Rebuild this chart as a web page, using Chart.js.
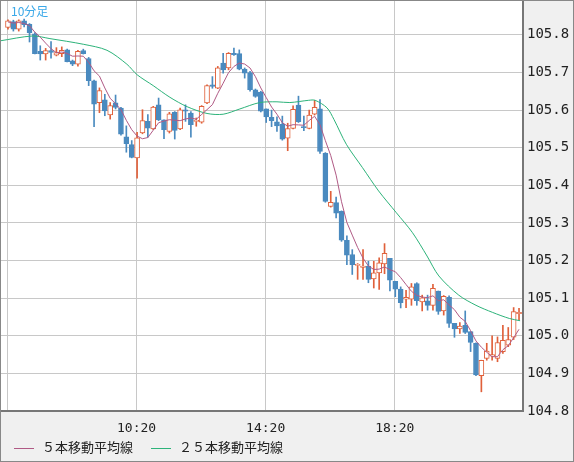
<!DOCTYPE html>
<html><head><meta charset="utf-8">
<script src="https://cdn.jsdelivr.net/npm/chart.js@4/dist/chart.umd.min.js"></script>
<style>
html,body{margin:0;padding:0;background:#f0f0f0;}
#wrap{position:relative;width:574px;height:462px;}
#c{position:absolute;left:0;top:0;}
#frame{position:absolute;left:0;top:0;width:572px;height:460px;border:1px solid #888;pointer-events:none;}
#title{position:absolute;left:11px;top:2px;font:12px "Noto Sans CJK JP";color:#3aa8e8;}
#legend{position:absolute;left:14px;top:437px;font:13px "Noto Sans CJK JP";color:#222;white-space:nowrap;}
#legend span.l{display:inline-block;width:20px;height:1px;vertical-align:middle;margin-right:8px;}
</style></head><body>
<div id="wrap"><canvas id="c" width="574" height="462"></canvas>
<div id="frame"></div>
<div id="title">10分足</div>
<div id="legend"><span class="l" style="background:#b05a85"></span>５本移動平均線<span style="display:inline-block;width:18px"></span><span class="l" style="background:#2db37a"></span>２５本移動平均線</div>
</div>
<script>
const opens  = [105.82,105.835,105.815,105.837,105.828,105.803,105.756,105.749,105.758,105.746,105.750,105.76,105.731,105.722,105.758,105.737,105.678,105.62,105.627,105.587,105.619,105.605,105.529,105.508,105.473,105.539,105.57,105.55,105.614,105.574,105.543,105.594,105.55,105.601,105.592,105.57,105.568,105.619,105.667,105.658,105.725,105.712,105.751,105.75,105.709,105.7,105.654,105.648,105.603,105.581,105.569,105.562,105.525,105.551,105.613,105.556,105.551,105.589,105.603,105.485,105.344,105.354,105.331,105.254,105.216,105.187,105.182,105.185,105.151,105.167,105.191,105.206,105.145,105.124,105.097,105.097,105.139,105.09,105.093,105.081,105.119,105.066,105.102,105.033,105.018,105.028,105.011,104.98,104.894,104.94,104.946,104.94,104.958,104.975,104.996,105.059];
const closes = [105.837,105.815,105.837,105.827,105.806,105.75,105.749,105.758,105.753,105.753,105.759,105.729,105.722,105.756,105.75,105.678,105.616,105.652,105.598,105.612,105.607,105.536,105.511,105.474,105.526,105.572,105.552,105.608,105.574,105.548,105.59,105.546,105.601,105.597,105.561,105.573,105.61,105.665,105.663,105.712,105.707,105.751,105.747,105.709,105.698,105.654,105.636,105.597,105.582,105.572,105.558,105.523,105.551,105.602,105.569,105.553,105.587,105.607,105.49,105.357,105.355,105.326,105.254,105.214,105.189,105.19,105.185,105.15,105.167,105.194,105.219,105.148,105.124,105.088,105.102,105.13,105.093,105.101,105.081,105.126,105.065,105.105,105.033,105.018,105.026,105.009,104.982,104.896,104.935,104.959,104.95,104.982,104.988,104.99,105.064,105.062];
const highs  = [105.84,105.839,105.84,105.842,105.83,105.806,105.771,105.764,105.782,105.766,105.768,105.762,105.733,105.759,105.762,105.74,105.68,105.659,105.642,105.62,105.64,105.607,105.558,105.519,105.541,105.601,105.588,105.61,105.632,105.574,105.594,105.596,105.605,105.614,105.596,105.579,105.612,105.667,105.689,105.716,105.751,105.753,105.765,105.76,105.712,105.703,105.656,105.65,105.603,105.6,105.582,105.584,105.565,105.611,105.637,105.584,105.6,105.626,105.628,105.487,105.384,105.369,105.332,105.266,105.229,105.192,105.229,105.198,105.198,105.207,105.245,105.206,105.145,105.13,105.121,105.139,105.141,105.108,105.108,105.137,105.119,105.107,105.106,105.033,105.035,105.066,105.011,104.981,104.935,104.98,105.0,104.997,105.028,105.022,105.075,105.073];
const lows   = [105.815,105.81,105.81,105.821,105.781,105.749,105.733,105.733,105.738,105.744,105.742,105.728,105.718,105.717,105.749,105.665,105.556,105.593,105.585,105.576,105.603,105.533,105.488,105.473,105.419,105.537,105.528,105.548,105.572,105.524,105.539,105.523,105.548,105.57,105.528,105.557,105.565,105.617,105.658,105.657,105.698,105.707,105.745,105.707,105.685,105.65,105.634,105.595,105.567,105.556,105.543,105.52,105.492,105.55,105.567,105.545,105.55,105.587,105.485,105.355,105.342,105.313,105.251,105.189,105.163,105.15,105.15,105.141,105.127,105.123,105.165,105.119,105.104,105.074,105.075,105.081,105.081,105.066,105.068,105.068,105.057,105.055,105.022,104.996,105.006,105.006,104.958,104.894,104.851,104.935,104.935,104.931,104.953,104.971,104.99,105.042];
const ma25Idx = [-1.5,4.6,7.8,14,18.4,22.1,24,27,30.1,33.3,37,40,43.1,46.8,50,52.4,55.9,57.1,59.3,60.6,62.9,65.9,68.9,72.2,75.2,77.9,80.1,83.8,87,90.1,93.2,95.2];
const ma25Val = [105.784,105.797,105.79,105.775,105.759,105.722,105.694,105.665,105.634,105.609,105.591,105.589,105.603,105.62,105.622,105.62,105.626,105.626,105.606,105.575,105.509,105.447,105.385,105.327,105.274,105.212,105.159,105.108,105.081,105.062,105.046,105.04];
const priorCloses = [105.83,105.83,105.84,105.835];
const yTicks = [104.8,104.9,105.0,105.1,105.2,105.3,105.4,105.5,105.6,105.7,105.8];
const xTickPos = [-0.1,23.9,47.9,71.9];
const xTickLabels = ['','10:20','14:20','18:20'];

const UP='#e0603a', DN='#4a8abf';
const idx = closes.map((_,i)=>i);
const all = priorCloses.concat(closes);
const ma5 = closes.map((_,i)=>{let s=0;for(let k=0;k<5;k++)s+=all[i+4-k];return {x:i,y:s/5};});
const wick = idx.map(i=>({x:i,y:[lows[i],highs[i]]}));
const body = idx.map(i=>({x:i,y:[opens[i],closes[i]]}));
const colr = idx.map(i=>closes[i]>=opens[i]?UP:DN);
const fill = idx.map(i=>closes[i]>=opens[i]?'#ffffff':DN);

new Chart(document.getElementById('c'),{
 data:{datasets:[
  {type:'line',data:ma5,borderColor:'#b05a85',borderWidth:1,pointRadius:0,tension:0,order:0},
  {type:'line',data:ma25Idx.map((x,i)=>({x:x,y:ma25Val[i]})),borderColor:'#2db37a',borderWidth:1,pointRadius:0,tension:0.3,order:1},
  {type:'bar',data:body,backgroundColor:fill,borderColor:colr,borderWidth:1,borderSkipped:false,barThickness:5,grouped:false,order:2},
  {type:'bar',data:wick,backgroundColor:colr,borderWidth:0,barThickness:1,grouped:false,order:3}
 ]},
 options:{responsive:false,animation:false,
  layout:{padding:{left:1,top:1,right:0,bottom:0}},
  plugins:{legend:{display:false},tooltip:{enabled:false}},
  scales:{
   x:{type:'linear',min:-1.3,max:95.74,offset:false,
     afterBuildTicks:s=>{s.ticks=xTickPos.map(v=>({value:v}));},
     afterFit:s=>{s.height=51;s.paddingLeft=0;s.paddingRight=0;},
     grid:{color:'#c8c8c8',drawTicks:false,offset:false},border:{color:'#777',width:2},
     ticks:{padding:10,maxRotation:0,autoSkip:false,font:{family:'DejaVu Sans Mono',size:13},color:'#222',
       callback:(v,i)=>xTickLabels[i]}},
   y:{position:'right',min:104.8,max:105.89,
     afterBuildTicks:s=>{s.ticks=yTicks.map(v=>({value:v}));},
     afterFit:s=>{s.width=51;s.paddingTop=0;s.paddingBottom=0;},
     grid:{color:'#c8c8c8',drawTicks:false},border:{color:'#777',width:2},
     ticks:{padding:4,font:{family:'DejaVu Sans Mono',size:14},color:'#222',callback:v=>v.toFixed(1)}}
  }},
 plugins:[{id:'bg',beforeDraw:c=>{const a=c.chartArea,g=c.ctx;g.save();g.fillStyle='#fff';g.fillRect(a.left,a.top,a.right-a.left,a.bottom-a.top);g.restore();}}]
});
</script></body></html>
